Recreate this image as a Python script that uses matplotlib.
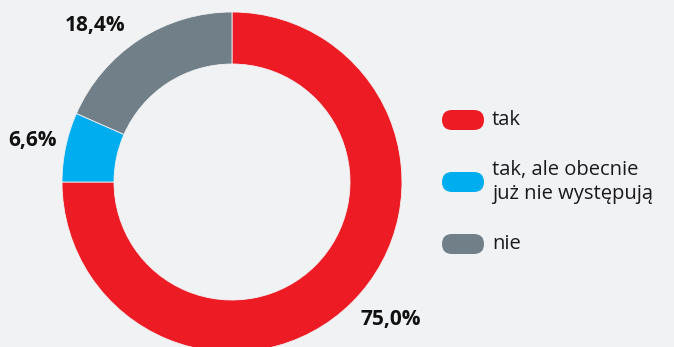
import matplotlib
matplotlib.use("Agg")
import numpy as np
import matplotlib.pyplot as plt
from matplotlib.patches import FancyBboxPatch

# dane
labels = ["tak", "tak, ale obecnie\njuż nie występują", "nie"]
values = [75.0, 6.6, 18.4]
colors = ["#ed1c24", "#00aeef", "#717f88"]
bg = "#f1f2f4"

plt.rcParams["font.family"] = ["Open Sans", "DejaVu Sans"]

fig = plt.figure(figsize=(6.74, 3.47), dpi=100, facecolor=bg)
ax = fig.add_axes([0, 0, 1, 1])
ax.set_facecolor(bg)

cx, cy, r = 232, 165, 170
wedges, _ = ax.pie(
    values,
    colors=colors,
    startangle=90,
    counterclock=False,
    center=(cx, cy),
    radius=r,
    wedgeprops=dict(width=52, linewidth=0.6, edgecolor=bg),
    frame=True,
)
ax.set_xlim(0, 674)
ax.set_ylim(0, 347)
ax.set_aspect("equal")
ax.axis("off")

# etykiety procentowe przy środkach wycinków (z lekkim przesunięciem kąta)
shift = [4, 0, 8]
dist = [210, 204, 208]
for w, v, s, d in zip(wedges, values, shift, dist):
    ang = np.deg2rad((w.theta1 + w.theta2) / 2 + s)
    ax.text(cx + d * np.cos(ang), cy + d * np.sin(ang),
            f"{v:.1f}%".replace(".", ","), fontsize=15, fontweight="bold",
            color="#111111", ha="center", va="center")

# legenda
for i, (lab, col) in enumerate(zip(labels, colors)):
    y = 227 - i * 62
    ax.add_patch(FancyBboxPatch((442, y - 10), 42, 20,
                                boxstyle="round,pad=0,rounding_size=10",
                                facecolor=col, edgecolor="none"))
    ax.text(492, y, lab, fontsize=14.5, color="#1a1a1a",
            va="center", ha="left", linespacing=1.3)

fig.savefig("out.png", dpi=100, facecolor=bg)
